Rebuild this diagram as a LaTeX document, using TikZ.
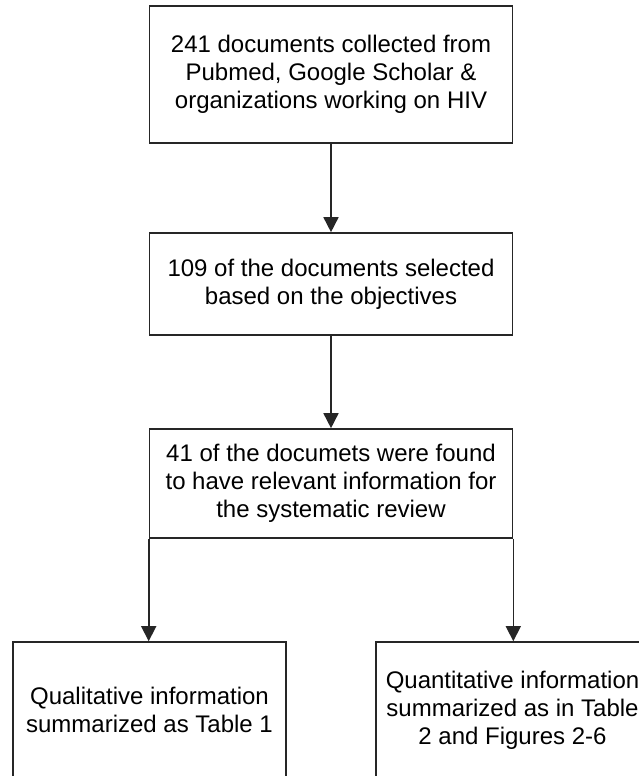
\documentclass[tikz,border=0pt]{standalone}
\usepackage{fontspec}
\setmainfont{Liberation Sans}
\usepackage{tikz}
\usetikzlibrary{arrows.meta}
\tikzstyle{flowarrow} = [line width=1.6pt, draw=black!85, -{Triangle[length=15pt,width=15pt]}]
\tikzstyle{flowbox} = [rectangle, minimum width=363pt, minimum height=102pt, align=center,
inner sep=0pt, draw=black!85, line width=1.6pt, anchor=center, font=\fontsize{24}{28}\selectfont]
\tikzstyle{endbox} = [flowbox, minimum width=273pt, minimum height=136pt]

\begin{document}
\begin{tikzpicture}[x=1pt, y=1pt]
      \useasboundingbox (0,0) rectangle (639,776);
      \node (0) [flowbox, minimum height=137pt] at (331,701.5)
        {241 documents collected from\\Pubmed, Google Scholar \&\\organizations working on HIV};
      \node (1) [flowbox, below of=0, node distance=209.5pt]
        {109 of the documents selected\\based on the objectives};
      \node (2) [flowbox, minimum height=109pt, below of=1, node distance=199.5pt]
        {41 of the documets were found\\to have relevant information for\\the systematic review};
      \node (3) [endbox] at (149.5,66) {Qualitative information\\summarized as Table 1};
      \node (4) [endbox] at (512.5,66) {Quantitative information\\summarized as in Table\\2 and Figures 2-6};

      \draw [flowarrow] (0) -- (1);
      \draw [flowarrow] (1) -- (2);
      \draw [flowarrow] (2.south west) -- (2.south west |- 3.north);
      \draw [flowarrow] (2.south east) -- (2.south east |- 4.north);
    \end{tikzpicture}
\end{document}
